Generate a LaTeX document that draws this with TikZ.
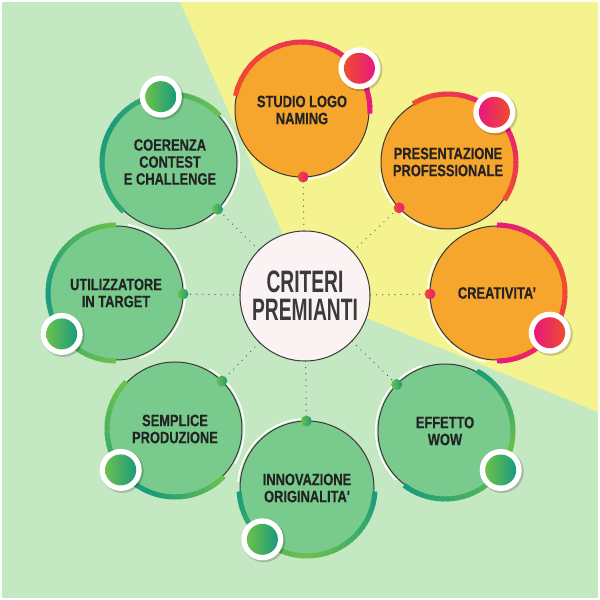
\documentclass[tikz,border=0pt]{standalone}
\usepackage{fontspec}
\usetikzlibrary{calc}
\newfontfamily\orbfont[FakeStretch=0.78,FakeBold=0.4]{Liberation Sans Bold}
\newfontfamily\cenfont[FakeStretch=0.62]{Liberation Sans Bold}
\definecolor{bgG}{HTML}{C3E8C2}
\definecolor{yel}{HTML}{F5F290}
\definecolor{orF}{HTML}{F6A62C}
\definecolor{grF}{HTML}{79CA8D}
\definecolor{cF}{HTML}{FBF3F3}
\definecolor{dk}{HTML}{3A3A3A}
\definecolor{txt}{HTML}{232323}
\definecolor{ctxt}{HTML}{3A3A3A}
\definecolor{r1}{HTML}{EF4D2E}
\definecolor{m1}{HTML}{E8187E}
\definecolor{g1}{HTML}{6CC14B}
\definecolor{t1}{HTML}{1A9B7D}
\definecolor{t2}{HTML}{2FA872}
% gradient thick arc: center, start, end, colour at start, colour at end
\newcommand{\tarc}[5]{%
  \foreach \k in {0,...,23}{%
    \pgfmathsetmacro{\aa}{#2+(#3-#2)*\k/24}%
    \pgfmathsetmacro{\ab}{#2+(#3-#2)*min(\k+1.3,24)/24}%
    \pgfmathsetmacro{\pc}{100-100*\k/23}%
    \draw[line width=5pt, color=#4!\pc!#5] ($(#1)+(\aa:68)$) arc[start angle=\aa, end angle=\ab, radius=68];
  }}
\newcommand{\warc}[3]{\draw[white, line width=1.5pt] ($(#1)+(#2:69.3)$) arc[start angle=#2, end angle=#3, radius=69.3];}
% badge: center, angle, distance, left colour, right colour
\newcommand{\badge}[5]{%
  \fill[black, opacity=0.18] ($(#1)+(#2:#3)+(1.5,-1.5)$) circle[radius=21.5];
  \fill[white] ($(#1)+(#2:#3)$) circle[radius=21];
  \shade[left color=#4, right color=#5] ($(#1)+(#2:#3)$) circle[radius=15.5];}
\newcommand{\edot}[3]{\shade[left color=#2, right color=#3] (#1) circle[radius=5.5];}
\begin{document}
\begin{tikzpicture}[x=1pt,y=1pt,
  orb/.style={circle, minimum size=134pt, inner sep=0pt, align=center,
    font=\orbfont\fontsize{16.5}{17}\selectfont, text=txt},
  ring/.style={draw=dk, line width=1pt},
  conn/.style={draw=dk!85, line width=1.3pt, dash pattern=on 0.1pt off 6pt, line cap=round}]
\useasboundingbox (0,0) rectangle (600,600);
\fill[white] (0,0) rectangle (600,600);
\fill[bgG] (2,2) rectangle (598,598);
\fill[yel] (180,598) -- (598,598) -- (598,188) -- (310,305) -- cycle;

% orbit circles
\node[orb, fill=orF] (s1) at (302,490) {STUDIO LOGO\\NAMING};
\node[orb, fill=orF] (s2) at (448,438) {PRESENTAZIONE\\PROFESSIONALE};
\node[orb, fill=orF] (s3) at (497,307) {CREATIVITA’};
\node[orb, fill=grF] (s4) at (445,169) {EFFETTO\\WOW};
\node[orb, fill=grF] (s5) at (307,112) {INNOVAZIONE\\ORIGINALITA{\char"0027}};
\node[orb, fill=grF] (s6) at (175,171) {SEMPLICE\\PRODUZIONE};
\node[orb, fill=grF] (s7) at (116,307) {UTILIZZATORE\\IN TARGET};
\node[orb, fill=grF] (s8) at (170,438) {COERENZA\\CONTEST\\E CHALLENGE};

% thin outlines
\foreach \s in {s1,s2,s3,s4,s5,s6,s7,s8}{\draw[ring] (\s.center) circle[radius=67];}
\warc{s1}{270}{322}
\warc{s2}{190}{260}
\warc{s3}{150}{260}
\warc{s4}{110}{225}
\warc{s5}{95}{175}
\warc{s6}{-30}{60}
\warc{s7}{-70}{80}
\warc{s8}{-60}{40}

% thick gradient arcs
\tarc{s1}{168}{-3}{r1}{m1}
\tarc{s2}{121}{40}{r1}{m1}
\tarc{s2}{40}{-34}{m1}{r1}
\tarc{s3}{90}{10}{m1}{r1}
\tarc{s3}{10}{-90}{r1}{m1}
\tarc{s4}{62}{-20}{t1}{g1}
\tarc{s4}{-20}{-127}{g1}{t1}
\tarc{s5}{183}{270}{t1}{g1}
\tarc{s5}{270}{357}{g1}{t1}
\tarc{s6}{136}{250}{g1}{t1}
\tarc{s6}{250}{316}{t1}{g1}
\tarc{s7}{90}{180}{g1}{t1}
\tarc{s7}{180}{270}{t1}{g1}
\tarc{s8}{43}{150}{g1}{t1}
\tarc{s8}{150}{227}{t1}{t2}

% badges
\badge{s1}{36}{71}{r1}{m1}
\badge{s2}{47}{68}{m1}{r1}
\badge{s3}{-37}{66}{m1}{r1}
\badge{s4}{-35}{68}{g1}{t1}
\badge{s5}{229}{68}{g1}{t1}
\badge{s6}{217}{68}{g1}{t1}
\badge{s7}{217}{68}{g1}{t1}
\badge{s8}{98}{66}{g1}{t1}

% centre
\node[circle, minimum size=130pt, inner sep=0pt, fill=cF, draw=dk, line width=1pt,
  align=center, font=\cenfont\fontsize{31}{28}\selectfont, text=ctxt] (c) at (305,304) {CRITERI\\PREMIANTI};

% connector ends
\foreach \s in {s1,s2,s3,s4,s5,s6,s7,s8}{\coordinate (d\s) at ($(\s)!67pt!(c)$);}
\foreach \s in {s1,s2,s3,s4,s5,s6,s7,s8}{\draw[conn] (c) -- (d\s);}
\edot{ds1}{r1}{m1}
\edot{ds2}{r1}{m1}
\edot{ds3}{r1}{m1}
\edot{ds4}{g1}{t1}
\edot{ds5}{g1}{t1}
\edot{ds6}{g1}{t1}
\edot{ds7}{g1}{t1}
\edot{ds8}{g1}{t1}
\end{tikzpicture}
\end{document}
